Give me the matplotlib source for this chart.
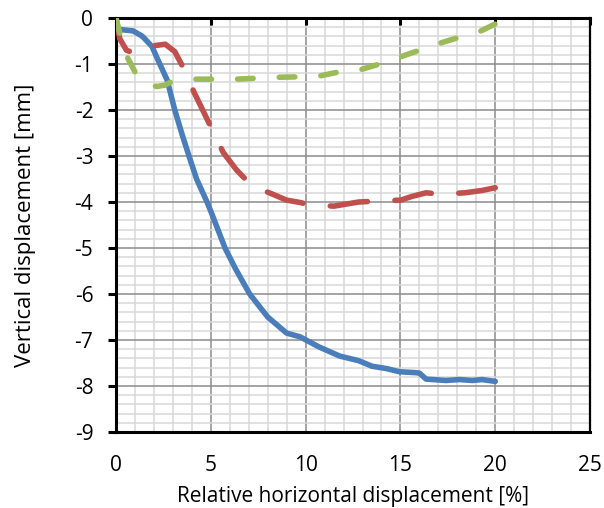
# --- Import libraries ---
import numpy as np
import matplotlib.pyplot as plt
from matplotlib.ticker import MultipleLocator

# --- Data ---
blue_x = [0.2, 0.9, 1.4, 1.9, 2.2, 2.7, 3.1, 3.5, 3.85, 4.25, 4.8, 5.0, 5.75, 6.3, 7.05,
          8.0, 9.0, 9.7, 10.7, 11.8, 12.8, 13.5, 14.25, 14.95, 15.8, 16.0, 16.35, 17.4,
          18.1, 18.8, 19.3, 20.0]
blue_y = [-0.25, -0.28, -0.4, -0.62, -0.9, -1.35, -2.0, -2.55, -3.0, -3.5, -4.0, -4.2, -5.0,
          -5.45, -6.0, -6.5, -6.85, -6.93, -7.15, -7.35, -7.45, -7.57, -7.62, -7.69, -7.71,
          -7.72, -7.85, -7.88, -7.86, -7.88, -7.86, -7.9]

red_x = [0.0, 0.2, 0.55, 1.0, 1.5, 2.05, 2.6, 3.1, 3.6, 4.1, 5.1, 5.65, 6.35, 7.05, 7.6,
         8.2, 9.0, 9.7, 10.3, 11.5, 12.8, 13.8, 15.0, 15.6, 16.35, 17.1, 18.4, 19.3, 20.0]
red_y = [0.0, -0.45, -0.7, -0.77, -0.68, -0.6, -0.57, -0.73, -1.12, -1.6, -2.45, -2.92,
         -3.3, -3.6, -3.72, -3.82, -3.96, -4.01, -4.07, -4.09, -4.0, -3.98, -3.96, -3.88,
         -3.8, -3.83, -3.8, -3.75, -3.69]

green_x = [0.0, 0.2, 0.63, 1.09, 1.6, 2.14, 2.58, 3.0, 4.16, 5.1, 6.35, 7.4, 8.45, 9.6,
           10.74, 11.79, 12.93, 13.9, 15.04, 16.0, 17.14, 18.1, 19.25, 20.0]
green_y = [0.0, -0.33, -0.88, -1.24, -1.42, -1.49, -1.46, -1.37, -1.33, -1.33, -1.33,
           -1.31, -1.29, -1.28, -1.26, -1.17, -1.12, -1.0, -0.84, -0.7, -0.54, -0.42,
           -0.28, -0.13]

plt.rcParams['font.family'] = ['Open Sans', 'DejaVu Sans']
plt.rcParams['axes.unicode_minus'] = False

fig = plt.figure(figsize=(6.04, 5.08), dpi=100)
ax = fig.add_axes([0.192, 0.1496, 0.785, 0.815])

ax.plot(blue_x, blue_y, color="#4a7ebb", lw=4, solid_capstyle="round",
        solid_joinstyle="round", zorder=3)
ax.plot(red_x, red_y, color="#c0504d", lw=4, dashes=(6.75, 4.95),
        dash_capstyle="round", dash_joinstyle="round", zorder=3)
ax.plot(green_x, green_y, color="#9bbb59", lw=4, dashes=(2.8, 4.7),
        dash_capstyle="round", dash_joinstyle="round", zorder=3)

ax.set_xlim(0, 25)
ax.set_ylim(-9, 0)
ax.xaxis.set_major_locator(MultipleLocator(5))
ax.xaxis.set_minor_locator(MultipleLocator(1))
ax.yaxis.set_major_locator(MultipleLocator(1))
ax.yaxis.set_minor_locator(MultipleLocator(0.2))

ax.grid(which="minor", color="#d9d9d9", lw=1.1, zorder=0)
ax.grid(which="major", color="#8c8c8c", lw=1.1, zorder=1)
ax.set_axisbelow(True)

for side in ["left", "top", "bottom"]:
    ax.spines[side].set_linewidth(2.2)
ax.spines["right"].set_linewidth(1.6)

ax.tick_params(axis="y", which="major", direction="out", length=5.8, width=2.2,
               labelsize=15, pad=10.5)
ax.tick_params(axis="x", which="major", direction="in", length=5, width=2.2,
               top=True, bottom=False, labelsize=15, pad=16.5)
ax.tick_params(which="minor", length=0)

ax.set_xlabel("Relative horizontal displacement [%]", fontsize=15, labelpad=7)
ax.set_ylabel("Vertical displacement [mm]", fontsize=16, labelpad=28)

plt.savefig("out.png", dpi=100)
